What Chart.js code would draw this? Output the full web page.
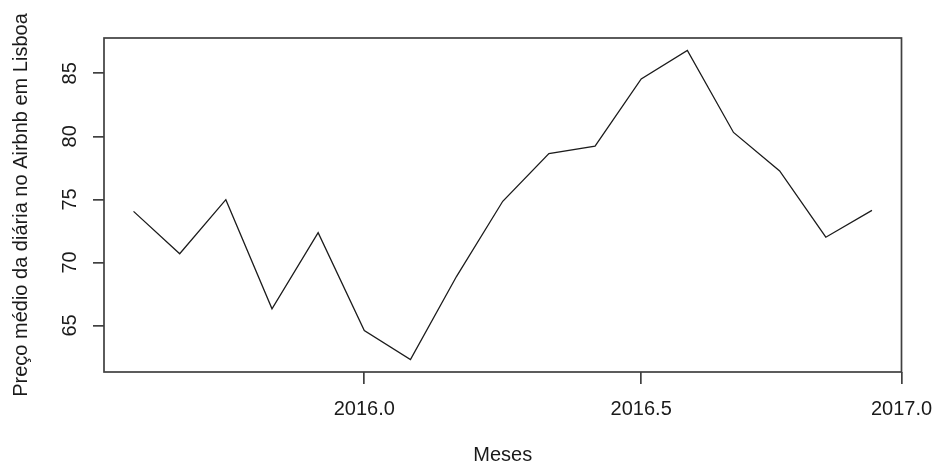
<!DOCTYPE html>
<html lang="pt">
<head>
<meta charset="utf-8">
<title>Preço médio da diária no Airbnb em Lisboa</title>
<script src="https://cdn.jsdelivr.net/npm/chart.js@4/dist/chart.umd.min.js"></script>
<style>
  html, body { margin: 0; padding: 0; background: #ffffff; }
  #grafico { display: block; }
</style>
</head>
<body>
<canvas id="grafico" width="933" height="465"></canvas>
<script>
// Meses da série (ano-mês) e preço médio da diária (EUR)
const meses = [
  '2015-08', '2015-09', '2015-10', '2015-11', '2015-12',
  '2016-01', '2016-02', '2016-03', '2016-04', '2016-05', '2016-06',
  '2016-07', '2016-08', '2016-09', '2016-10', '2016-11', '2016-12'
];
const precoMedio = [
  74.05, 70.69, 74.98, 66.32, 72.36,
  64.59, 62.29, 68.90, 74.85, 78.64, 79.22,
  84.55, 86.82, 80.31, 77.26, 72.00, 74.13
];
const ticksX = [2016.0, 2016.5, 2017.0];
const ticksY = [65, 70, 75, 80, 85];

const tituloX = 'Meses';
const tituloY = 'Preço médio da diária no Airbnb em Lisboa';

// tempo em fração de ano, como numa série mensal (jan = .0, jul = .5)
const tempo = meses.map(m => {
  const [ano, mes] = m.split('-').map(Number);
  return ano + (mes - 1) / 12;
});

// limites com 4% de folga em cada lado
function limites(v) {
  const lo = Math.min(...v), hi = Math.max(...v), f = (hi - lo) * 0.04;
  return [lo - f, hi + f];
}
const [xMin, xMax] = limites(tempo);
const [yMin, yMax] = limites(precoMedio);

const corEixo = '#404040';
const corTexto = '#1a1a1a';
const fonte = { family: '"Liberation Sans", Arial, Helvetica, sans-serif', size: 20 };

// moldura à volta da área do gráfico
const moldura = {
  id: 'moldura',
  afterDatasetsDraw(chart) {
    const { ctx, chartArea: a } = chart;
    ctx.save();
    ctx.strokeStyle = corEixo;
    ctx.lineWidth = 1.7;
    ctx.strokeRect(a.left, a.top, a.right - a.left, a.bottom - a.top);
    ctx.restore();
  }
};

new Chart(document.getElementById('grafico'), {
  type: 'line',
  data: {
    datasets: [{
      data: tempo.map((t, i) => ({ x: t, y: precoMedio[i] })),
      borderColor: '#1c1c1c',
      borderWidth: 1.3,
      pointRadius: 0,
      tension: 0,
      fill: false
    }]
  },
  options: {
    responsive: false,
    devicePixelRatio: 1,
    animation: false,
    layout: { padding: { top: 38, right: 31.5, bottom: 0, left: 0 } },
    plugins: { legend: { display: false }, tooltip: { enabled: false } },
    scales: {
      x: {
        type: 'linear',
        min: xMin,
        max: xMax,
        afterBuildTicks(scale) {
          scale.ticks = ticksX.map(v => ({ value: Math.min(v, scale.max) }));
        },
        afterFit(scale) {
          scale.height = 93;
          scale.paddingLeft = 0;
          scale.paddingRight = 0;
        },
        ticks: {
          color: corTexto,
          font: fonte,
          padding: 13,
          maxRotation: 0,
          autoSkip: false,
          callback: (v, i) => ticksX[i].toFixed(1)
        },
        grid: {
          display: true,
          drawOnChartArea: false,
          drawTicks: true,
          tickLength: 12,
          color: corEixo,
          lineWidth: 1.7
        },
        border: { display: false },
        title: {
          display: true,
          text: tituloX,
          color: corTexto,
          font: fonte,
          padding: { top: 0, bottom: -2.7 }
        }
      },
      y: {
        type: 'linear',
        min: yMin,
        max: yMax,
        afterBuildTicks(scale) {
          scale.ticks = ticksY.map(v => ({ value: v }));
        },
        afterFit(scale) {
          scale.width = 104;
          scale.paddingTop = 0;
          scale.paddingBottom = 0;
        },
        ticks: {
          color: corTexto,
          font: fonte,
          padding: 11.7,
          minRotation: 90,
          maxRotation: 90,
          crossAlign: 'center',
          autoSkip: false,
          callback: v => String(v)
        },
        grid: {
          display: true,
          drawOnChartArea: false,
          drawTicks: true,
          tickLength: 11,
          color: corEixo,
          lineWidth: 1.7
        },
        border: { display: false },
        title: {
          display: true,
          text: tituloY,
          color: corTexto,
          font: fonte,
          padding: { top: 9.4, bottom: 0 }
        }
      }
    }
  },
  plugins: [moldura]
});
</script>
</body>
</html>
